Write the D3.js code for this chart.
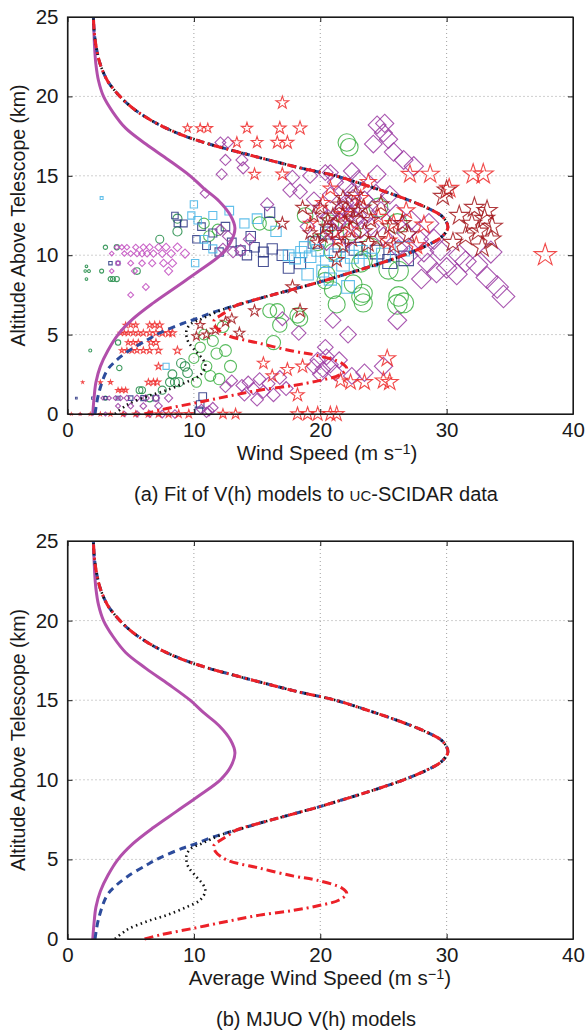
<!DOCTYPE html>
<html>
<head>
<meta charset="utf-8">
<script src="https://cdn.jsdelivr.net/npm/d3@7"></script>
<style>
  body { margin: 0; background: #fff; }
  #chart { width: 587px; height: 1036px; }
  text { font-family: "Liberation Sans", Arial, sans-serif; fill: #1a1a1a; }
  .axis text { font-size: 20.5px; }
  .axis path, .axis line { stroke: #1a1a1a; }
</style>
</head>
<body>
<div id="chart"></div>
<script>

// ---- data: [wind speed (m/s), altitude (km)] ----

const xTicks = [0, 10, 20, 30, 40];
const yTicks = [0, 5, 10, 15, 20, 25];

// model curves, ordered by altitude
const magentaCurve = [[2.0,0],[2.1,1],[2.25,2],[2.6,3],[3.2,4],[4.0,5],[5.2,6],[6.8,7],[8.6,8],
  [10.4,9],[12.1,10],[12.9,10.8],[13.25,11.7],[12.9,12.5],[12.0,13.4],[10.8,14.2],[9.7,15.0],
  [8.0,16.0],[6.2,17.0],[4.6,18.0],[3.6,19.0],[2.85,20.0],[2.45,21.0],[2.25,22.0],[2.15,23.0],[2.05,25]];

// shared upper branch of the blue / black / red models
const upperBranch = [[13.4,6.85],[15.3,7.3],[17.6,7.8],[19.9,8.3],[22.4,8.9],[24.4,9.4],[26.6,10.0],
  [28.4,10.6],[29.6,11.15],[30.1,11.75],[29.7,12.4],[28.4,13.0],[26.2,13.7],[24.0,14.3],[21.2,15.0],
  [18.4,15.5],[15.9,16.0],[13.5,16.5],[11.2,17.0],[9.3,17.5],[7.8,18.0],[6.6,18.5],[5.6,19.0],
  [4.8,19.5],[4.15,20.0],[3.6,20.5],[3.15,21.0],[2.6,22.0],[2.3,23.0],[2.12,24.0],[2.05,25]];

const blueLower = [[2.18,0],[2.44,1.2],[3.1,2.7],[3.76,3.3],[4.7,3.9],[6.27,4.65],[7.3,5.1],
  [9.1,5.7],[10.2,6.0],[11.3,6.35],[12.3,6.6]];

const blackLower = [[3.76,0],[4.7,0.57],[6.27,1.1],[7.85,1.5],[9.4,2.0],[10.5,2.45],[10.9,3.0],
  [10.75,3.4],[10.2,3.9],[9.55,4.55],[9.4,5.0],[9.45,5.35],[9.8,5.7],[10.5,5.95],[11.3,6.25],[12.2,6.55]];

const redLower = [[6.1,0],[7.3,0.25],[9.95,0.67],[12.6,1.1],[15.2,1.5],[17.9,1.8],[19.9,2.1],
  [21.5,2.45],[22.1,2.85],[21.7,3.2],[19.7,3.7],[17.9,3.95],[15.2,4.45],[12.6,4.97],[11.7,5.5],
  [11.6,5.9],[12.1,6.2],[12.7,6.5]];

// UC-SCIDAR measurements, panel (a)
const redStars = [[9.5,18.0],[10.5,18.0],[11.1,18.0],[14.2,18.0],[16.8,18.0],[18.4,18.0],[17.0,19.6],
  [13.4,17.1],[15.0,17.1],[16.6,17.1],[17.4,17.1],[14.8,15.1],[17.0,15.1],
  [27.1,15.1],[28.7,15.1],[32.1,15.1],[32.9,15.1],[37.8,10.0],[30.2,14.2],
  [20.2,13.3],[21.8,12.6],[23.2,13.6],[24.6,12.4],[22.4,11.6],[26.8,12.8],[28.2,11.9],[25.4,10.9],
  [19.2,12.0],[20.8,14.2],[23.8,14.6],[25.8,12.0],[27.6,10.6],[21.4,11.0],
  [25.3,3.5],[25.0,2.1],[25.5,2.0],[22.4,2.0],[23.5,2.0],[21.6,2.1],[18.6,3.0],[17.4,2.8],[18.2,1.2],
  [15.5,3.2],[16.2,2.4],[18.2,0],[19.0,0],[19.8,0],[20.8,0],[21.3,0],[12.3,0],[13.3,0],
  [4.6,5.6],[5.0,5.6],[5.4,5.6],[6.5,5.6],[6.9,5.6],[7.3,5.6],
  [4.2,5.1],[4.5,5.1],[4.8,5.1],[5.2,5.1],[5.6,5.1],[6.0,5.1],[6.5,5.1],[7.0,5.1],[7.5,5.1],[8.0,5.1],[8.3,5.1],
  [4.8,4.5],[5.2,4.5],[5.6,4.5],[6.6,4.5],[7.0,4.5],
  [4.3,4.0],[4.7,4.0],[5.1,4.0],[5.5,4.0],[6.0,4.0],[6.5,4.0],[7.2,4.0],[8.7,4.0],
  [7.2,3.0],[1.2,2.0],[2.6,2.0],[3.4,2.0],[6.4,2.0],[6.8,2.0],[7.1,2.0],[4.0,1.5],[4.3,1.5],[4.6,1.5],
  [0.3,0],[1.0,0],[1.8,0],[2.6,0],[3.4,0],[4.4,0],[5.4,0],[6.4,0],[7.2,0],[8.0,0],[8.8,0],[9.6,0]];

const darkRedStars = [[10.5,5.6],[11.7,5.3],[12.5,5.8],[13.0,6.0],[13.6,5.1],[10.2,4.9],[11.0,5.0],
  [17.0,12.0],[18.6,13.0],[21.3,9.7],[17.8,8.0],[14.8,6.5],[18.4,6.5],
  [19.5,12.5],[20.0,13.0],[20.5,11.8],[21.0,12.5],[21.5,13.2],[22.0,12.0],[22.5,11.0],[23.0,12.8],
  [23.5,11.5],[24.0,12.2],[20.2,11.2],[19.8,10.8],[22.8,13.8],[21.8,10.6],[24.5,11.0],[25.5,11.8],
  [26.5,12.0],[27.0,11.3],[25.8,10.6],[20.6,12.2],[21.2,11.4],[22.2,12.8],[22.6,12.3],[23.4,13.0],
  [21.8,13.6],[19.2,11.4],[24.8,13.2],[23.8,10.7],
  [30.0,14.1],[29.7,13.7],[31.0,12.5],[32.0,12.0],[32.5,11.5],[33.0,12.3],[33.5,11.0],[32.8,10.5],
  [31.5,11.2],[33.2,12.8],[30.5,10.8],[32.2,13.0],[33.6,11.8]];

const purpleDiamonds = [[24.5,18.2],[25.1,18.3],[25.0,17.7],[25.4,17.3],[25.8,16.5],[24.2,17.0],
  [26.6,16.0],[27.4,15.6],
  [12.1,17.1],[12.7,17.1],[12.5,16.0],[13.8,16.0],[13.9,15.5],[12.2,15.1],[10.9,13.9],
  [17.8,14.9],[17.6,14.1],[18.4,14.0],[15.8,13.2],[19.2,15.0],[20.4,15.2],[20.8,15.2],[22.5,15.3],[24.5,15.1],
  [19.5,13.5],[20.0,12.8],[20.8,13.8],[21.5,12.2],[22.0,13.3],[22.5,14.0],[23.0,12.5],[21.0,11.5],
  [22.2,11.0],[23.5,13.5],[24.0,11.8],[20.5,10.8],[19.0,11.8],[24.8,12.8],[25.5,13.8],[26.0,12.6],
  [26.8,11.4],[27.8,11.0],[27.2,12.2],[21.6,12.8],[22.8,12.2],
  [21.2,14.6],[22.0,14.4],[23.0,14.8],[21.8,13.0],[22.4,12.6],[22.6,13.6],[23.2,11.6],[21.4,12.0],
  [20.6,12.4],[23.8,12.6],[24.4,13.9],[25.0,11.2],[26.2,10.4],[27.0,10.0],[28.2,10.2],[29.0,11.0],
  [28.6,12.0],
  [28.5,9.5],[29.2,8.9],[30.0,9.2],[30.8,8.8],[31.5,9.6],[32.4,9.4],[33.2,8.6],[34.0,8.0],[34.5,7.4],
  [33.5,10.2],[29.5,10.3],[31.0,10.0],[28.0,8.5],
  [12.1,11.6],[12.7,11.2],[13.1,10.2],[12.3,10.4],[14.4,11.0],[13.7,10.3],
  [17.0,6.0],[18.3,5.1],[21.0,5.9],[22.2,5.0],[26.1,5.9],[20.4,4.2],
  [19.5,3.0],[19.8,3.4],[20.2,2.8],[20.5,3.6],[20.8,3.1],[21.2,2.6],[21.5,3.4],[20.0,2.5],[22.5,2.4],
  [23.5,2.6],[25.0,3.0],
  [13.8,1.8],[14.3,2.0],[14.7,1.6],[15.2,2.2],[15.5,1.4],[15.9,1.9],[16.3,1.2],[16.8,2.3],[17.3,1.6],
  [14.0,1.2],[15.0,0.9],[13.0,2.1],[12.5,1.7],[10.6,0.3],[11.0,0.1],[11.5,0.4],[11.2,0.2],
  [2.8,1.0],[3.3,1.0],[3.8,1.0],[4.2,1.0],[4.7,1.0],[5.5,1.0],[6.2,1.0],[7.0,1.0],[8.0,1.0],
  [4.0,0.5],[5.0,0.5],[6.0,0.5],[7.2,0.5],[1.0,0],[2.0,0],[3.0,0],[4.5,0],[5.5,0],[6.5,0],[7.5,0],[8.5,0]];

const pinkDiamonds = [[3.9,10.5],[4.3,10.5],[4.7,10.5],[5.4,10.5],[6.0,10.5],[6.5,10.5],[7.2,10.5],[7.8,10.5],[8.7,10.5],
  [3.5,10.1],[4.5,10.1],[5.0,10.1],[5.5,10.1],[5.9,10.1],[6.3,10.1],[6.8,10.1],[7.5,10.1],[8.2,10.1],[9.3,10.1],
  [4.0,9.5],[5.0,9.5],[5.9,9.5],[6.7,9.5],[7.6,9.5],[8.3,9.5],[3.5,9.0],[5.3,9.0],[8.0,9.0],[6.2,8.0],[5.0,7.5]];

const greenCircles = [[22.1,17.1],[22.3,16.8],[18.8,12.5],[16.0,12.0],[15.2,12.0],[24.6,13.0],[26.1,12.0],
  [23.4,9.7],[23.2,9.5],[25.4,9.1],[26.2,9.0],[20.5,8.8],[20.4,8.4],[21.0,7.8],[23.4,7.6],[23.2,7.4],
  [26.2,7.4],[22.6,8.2],[21.3,6.9],[23.4,7.0],[26.1,6.9],[26.6,7.0],[16.0,6.5],[16.6,6.5],[18.2,6.2],
  [18.4,6.0],[16.8,5.6],[16.3,4.5],[20.8,12.0],[22.5,11.5],[21.0,10.2],[24.0,10.5],[19.8,10.8],
  [12.3,5.5],[12.5,4.0],[12.9,3.0],[10.0,3.5],[10.5,4.2],[11.0,3.0],[11.3,2.4],[11.8,3.8],[12.0,2.2],
  [10.8,5.0],[11.5,4.6],[10.2,2.0],[10.8,12.0],[11.9,11.6],[11.2,11.2]];

const darkGreenCircles = [[3.0,10.5],[3.9,10.5],[1.5,9.3],[1.4,9.0],[1.7,9.0],[2.7,9.0],[1.5,8.5],
  [3.4,8.5],[3.6,8.5],[3.9,8.5],[7.3,11.0],[8.7,11.5],[8.7,12.3],[5.5,9.0],
  [1.8,4.0],[4.0,4.5],[4.1,2.9],[5.7,1.5],[5.9,1.5],[8.1,2.0],[8.5,2.0],[8.8,2.0],[9.5,2.6],[8.3,2.5],
  [7.5,1.5],[6.5,1.0],[3.0,1.0],[9.0,3.2],[9.3,3.0]];

const lightBlueSquares = [[2.7,13.6],[10.0,13.2],[10.1,9.5],[7.8,3.0],[10.3,12.2],[10.8,11.0],[11.5,10.4],
  [17.5,10.0],[18.0,9.8],[18.5,10.2],[19.2,9.9],[19.8,10.3],[20.5,9.6],[21.2,10.0],[21.8,9.4],[22.5,9.9],
  [23.2,10.2],[24.0,9.7],[19.0,8.8],[20.8,8.5],[22.2,8.0],[20.2,9.0],[25.0,10.0],[26.5,10.4],[14.0,12.0],
  [15.0,12.3],[16.5,11.5],[11.5,12.5],[9.8,12.5],[12.8,12.8],[18.8,10.5]];

const navySquares = [[8.5,12.5],[8.7,12.0],[9.2,12.0],[3.4,9.5],[4.0,9.5],[0.7,1.0],[2.0,1.0],[3.0,1.0],
  [4.0,1.0],[5.0,1.0],[6.0,1.0],[7.0,1.0],[10.7,1.1],[10.5,0.6],[10.4,0.2],
  [10.2,11.0],[10.6,11.8],[11.0,10.6],[11.5,11.4],[12.0,10.2],[13.0,10.8],[13.7,10.3],[14.2,10.0],
  [14.8,10.5],[15.5,10.2],[16.2,10.4],[17.0,10.0],[16.0,12.7],[18.4,9.5],[14.5,11.2],[12.5,11.8],
  [19.5,10.8],[24.5,10.2],[25.5,9.6],[26.8,9.8],[21.5,10.6],[22.8,10.4],[17.5,9.2],[20.5,11.4],[15.5,9.6]];

/*
LAYOUT
*/
const width = 587, height = 1036;
const margin = {left: 67.5, right: 573};
const panels = [
  {top: 17, bottom: 414, xLabel: "Wind Speed (m s", labelX: 327, caption: "a", scatter: true},
  {top: 541, bottom: 939, xLabel: "Average Wind Speed (m s", labelX: 320, caption: "b", scatter: false}
];

const svg = d3.select("#chart").append("svg")
  .attr("width", width)
  .attr("height", height);

const xScale = d3.scaleLinear().domain([0, 40]).range([margin.left, margin.right]);

const line = d3.line().curve(d3.curveCatmullRom.alpha(0.5));

// marker sizes grow with the wind speed
function sz(v) { return Math.pow(Math.max(v, 1.2), 0.7); }
const starPath = v => d3.symbol(d3.symbolStar, Math.pow(0.92 * sz(v), 2) / 0.8908130915292852)();
const circlePath = v => d3.symbol(d3.symbolCircle, Math.PI * Math.pow(1.0 * sz(v), 2))();
const squarePath = v => d3.symbol(d3.symbolSquare, Math.pow(1.45 * sz(v), 2))();
const diamondPath = v => d3.symbol(d3.symbolSquare, 2 * Math.pow(0.95 * sz(v), 2))();

const series = [
  {data: darkGreenCircles, color: "#1f8a45", path: circlePath, rot: 0},
  {data: greenCircles, color: "#3cb043", path: circlePath, rot: 0},
  {data: navySquares, color: "#2a3583", path: squarePath, rot: 0},
  {data: lightBlueSquares, color: "#45b4e6", path: squarePath, rot: 0},
  {data: pinkDiamonds, color: "#c24cbf", path: diamondPath, rot: 45},
  {data: purpleDiamonds, color: "#9a3aa2", path: diamondPath, rot: 45},
  {data: redStars, color: "#ee2a2a", path: starPath, rot: 0},
  {data: darkRedStars, color: "#a3181c", path: starPath, rot: 0}
];

panels.forEach(function(p) {

  const yScale = d3.scaleLinear().domain([0, 25]).range([p.bottom, p.top]);
  const g = svg.append("g");

  // dotted grid
  g.selectAll(".gx").data([10, 20, 30]).enter().append("line")
    .attr("x1", d => xScale(d)).attr("x2", d => xScale(d))
    .attr("y1", p.top).attr("y2", p.bottom)
    .attr("stroke", "#a0a0a0").attr("stroke-width", 1).attr("stroke-dasharray", "1,3");
  g.selectAll(".gy").data([5, 10, 15, 20]).enter().append("line")
    .attr("x1", margin.left).attr("x2", margin.right)
    .attr("y1", d => yScale(d)).attr("y2", d => yScale(d))
    .attr("stroke", "#a0a0a0").attr("stroke-width", 1).attr("stroke-dasharray", "1,3");

  // scatter of measurements
  if (p.scatter) {
    series.forEach(function(s) {
      g.append("g").selectAll("path").data(s.data).enter().append("path")
        .attr("d", d => s.path(d[0]))
        .attr("transform", d => `translate(${xScale(d[0])},${yScale(d[1])}) rotate(${s.rot})`)
        .attr("fill", "none")
        .attr("stroke", s.color)
        .attr("stroke-width", 1.1)
        .attr("opacity", 0.85);
    });
  }

  // model curves
  const curves = [
    {data: magentaCurve, color: "#b24fab", dash: null, w: 3},
    {data: blueLower.concat(upperBranch), color: "#2d4c9c", dash: "7,5", w: 3},
    {data: blackLower.concat(upperBranch), color: "#111", dash: "1.5,3.5", w: 2.6},
    {data: redLower.concat(upperBranch), color: "#ec2128", dash: "9,4,2,4", w: 3}
  ];
  curves.forEach(function(c) {
    g.append("path")
      .attr("d", line(c.data.map(d => [xScale(d[0]), yScale(d[1])])))
      .attr("fill", "none")
      .attr("stroke", c.color)
      .attr("stroke-width", c.w)
      .attr("stroke-dasharray", c.dash);
  });

  // axes, ticks inward
  g.append("g").attr("class", "axis")
    .attr("transform", `translate(0,${p.bottom})`)
    .call(d3.axisBottom(xScale).tickValues(xTicks).tickSizeInner(-5).tickSizeOuter(0).tickPadding(8));
  g.append("g").attr("class", "axis")
    .attr("transform", `translate(${margin.left},0)`)
    .call(d3.axisLeft(yScale).tickValues(yTicks).tickSizeInner(-5).tickSizeOuter(0).tickPadding(9));
  g.append("g").attr("class", "axis")
    .attr("transform", `translate(0,${p.top})`)
    .call(d3.axisTop(xScale).tickValues(xTicks).tickSizeInner(-5).tickSizeOuter(0).tickFormat(""));
  g.append("g").attr("class", "axis")
    .attr("transform", `translate(${margin.right},0)`)
    .call(d3.axisRight(yScale).tickValues(yTicks).tickSizeInner(-5).tickSizeOuter(0).tickFormat(""));

  g.append("rect")
    .attr("x", margin.left).attr("y", p.top)
    .attr("width", margin.right - margin.left).attr("height", p.bottom - p.top)
    .attr("fill", "none").attr("stroke", "#1a1a1a").attr("stroke-width", 1.2);

  // axis labels
  const xl = g.append("text")
    .attr("x", p.labelX)
    .attr("y", p.bottom + 46)
    .attr("text-anchor", "middle")
    .style("font-size", "20.5px");
  xl.append("tspan").text(p.xLabel);
  xl.append("tspan").attr("dy", -6.5).style("font-size", "14.5px").text("\u22121");
  xl.append("tspan").attr("dy", 6.5).text(")");

  g.append("text")
    .attr("transform", "rotate(-90)")
    .attr("x", -(p.top + p.bottom) / 2)
    .attr("y", 25)
    .attr("text-anchor", "middle")
    .style("font-size", "19.5px")
    .text("Altitude Above Telescope (km)");

  // caption
  const cap = g.append("text")
    .attr("x", 316)
    .attr("y", p.bottom + 87)
    .attr("text-anchor", "middle")
    .style("font-size", "20px");
  if (p.caption === "a") {
    cap.append("tspan").text("(a) Fit of V(h) models to ");
    cap.append("tspan").style("font-size", "15px").text("UC");
    cap.append("tspan").text("-SCIDAR data");
  } else {
    cap.text("(b) MJUO V(h) models");
  }
});

</script>
</body>
</html>
